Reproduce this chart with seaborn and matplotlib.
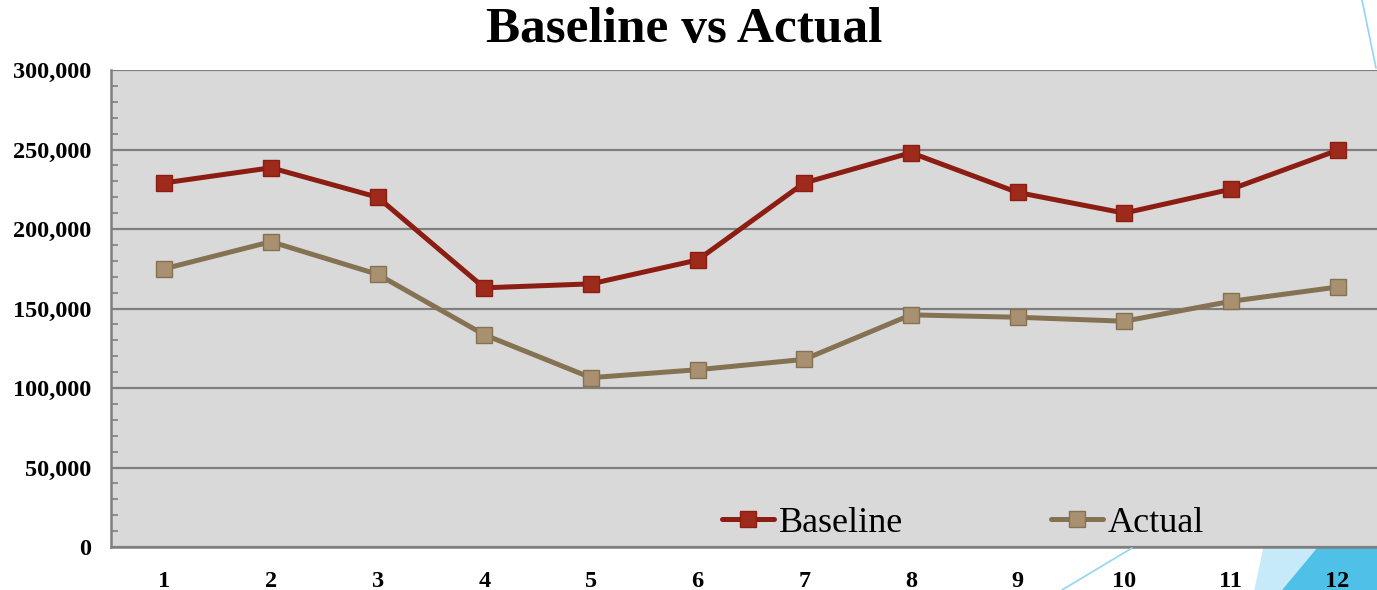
import numpy as np
import pandas as pd
import matplotlib.pyplot as plt
from matplotlib.ticker import MultipleLocator, FuncFormatter
from matplotlib.lines import Line2D
from matplotlib.patches import Polygon
import seaborn as sns

# values
months = list(range(1, 13))
baseline = [229000, 238500, 220000, 163000, 165500, 180500, 229000, 248000, 223000, 210000, 225000, 249500]
actual = [175000, 192000, 171500, 133500, 106500, 111500, 118000, 146000, 144500, 142000, 154500, 163500]

df = pd.DataFrame({
    'Month': months * 2,
    'Value': baseline + actual,
    'Series': ['Baseline'] * 12 + ['Actual'] * 12,
})

sns.set_style('white')
plt.rcParams['font.family'] = ['Liberation Serif', 'DejaVu Serif']
plt.rcParams['text.color'] = 'black'
plt.rcParams['xtick.color'] = 'black'
plt.rcParams['ytick.color'] = 'black'

fig = plt.figure(figsize=(13.77, 5.90), dpi=100)
ax = fig.add_axes([111 / 1377, 43 / 590, 1 - 111 / 1377, 477 / 590])
ax.set_facecolor('#d9d9d9')

line_cols = {'Baseline': '#8c1d12', 'Actual': '#857253'}
face_cols = {'Baseline': '#9e2a1c', 'Actual': '#a89070'}

sns.lineplot(data=df, x='Month', y='Value', hue='Series', palette=line_cols,
             linewidth=3.6, legend=False, ax=ax, zorder=3)
for name, vals in [('Baseline', baseline), ('Actual', actual)]:
    ax.plot(months, vals, linestyle='none', marker='s', markersize=11.5,
            markerfacecolor=face_cols[name], markeredgecolor=line_cols[name],
            markeredgewidth=1.0, zorder=4)

ax.set_xlim(0.5, 12.37)
ax.set_ylim(0, 300000)
ax.set_xticks(months)
ax.yaxis.set_major_locator(MultipleLocator(50000))
ax.yaxis.set_minor_locator(MultipleLocator(10000))
ax.yaxis.set_major_formatter(FuncFormatter(lambda v, p: f'{int(v):,}'))
ax.grid(axis='y', which='major', color='#7f7f7f', linewidth=1.6)
ax.set_axisbelow(True)
ax.set_xlabel('')
ax.set_ylabel('')

for s in ['top', 'right']:
    ax.spines[s].set_visible(False)
for s in ['left', 'bottom']:
    ax.spines[s].set_color('#7f7f7f')
    ax.spines[s].set_linewidth(1.8)

ax.tick_params(axis='y', which='major', direction='out', length=7, width=1.5,
               color='#7f7f7f', labelsize=17.5, pad=7)
ax.tick_params(axis='y', which='minor', direction='in', length=5, width=1.2,
               color='#7f7f7f', left=True)
ax.tick_params(axis='x', which='both', length=0, labelsize=17.5, pad=17)
for lab in ax.get_xticklabels() + ax.get_yticklabels():
    lab.set_fontweight('bold')

handles = [Line2D([], [], color=line_cols[n], linewidth=3.6, marker='s', markersize=11.5,
                  markerfacecolor=face_cols[n], markeredgecolor=line_cols[n])
           for n in ['Baseline', 'Actual']]
ax.legend(handles, ['Baseline', 'Actual'], ncol=2, frameon=False, fontsize=26,
          loc='center left', bbox_to_anchor=(0.4826, 0.05), borderpad=0, borderaxespad=0,
          handlelength=1.45, handletextpad=0.12, columnspacing=4.1)

fig.text(684 / 1377, 1 - 30 / 590, 'Baseline vs Actual', ha='center', va='center',
         fontsize=37, fontweight='bold')

# slide decorations in the corners
fig.add_artist(Polygon([[1255 / 1377, 0], [1264 / 1377, 42 / 590], [1377 / 1377, 42 / 590], [1, 0]],
                       closed=True, transform=fig.transFigure, color='#c6eaf8', zorder=0))
fig.add_artist(Polygon([[1283 / 1377, 0], [1318 / 1377, 42 / 590], [1, 42 / 590], [1, 0]],
                       closed=True, transform=fig.transFigure, color='#4fc1e9', zorder=0))
fig.add_artist(Line2D([1062 / 1377, 1132 / 1377], [0, 42 / 590], transform=fig.transFigure,
                      color='#8fd6f0', linewidth=1.2))
fig.add_artist(Line2D([1362 / 1377, 1376 / 1377], [1, 1 - 68 / 590], transform=fig.transFigure,
                      color='#8fd6f0', linewidth=1.2))

fig.savefig('out.png', dpi=100)
